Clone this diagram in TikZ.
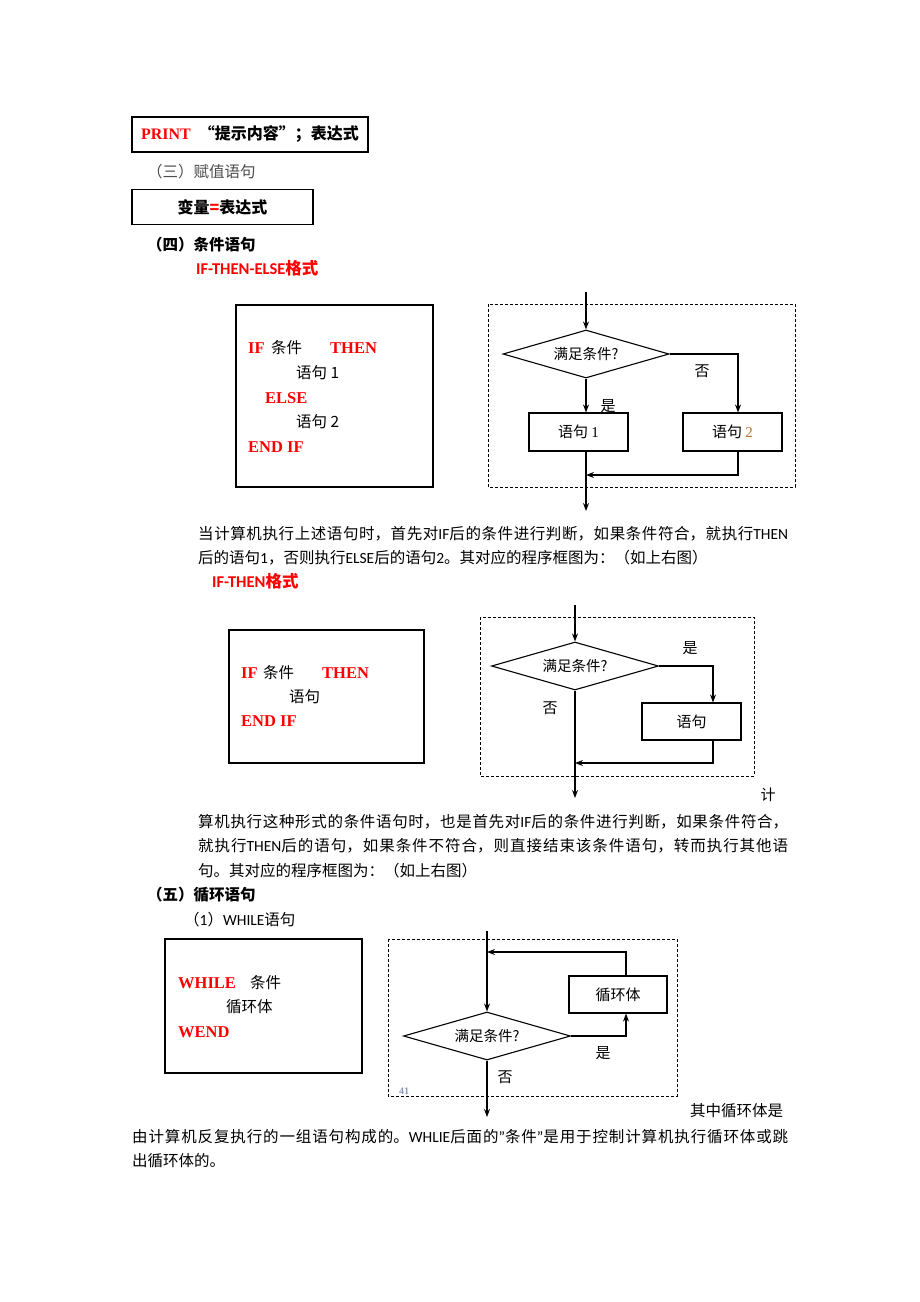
\documentclass[tikz,border=0pt]{standalone}
\usepackage{fontspec}
\setmainfont{Carlito}
\newfontfamily\cjk{Noto Sans CJK SC}
\newfontfamily\tnr{Liberation Serif}
\XeTeXlinebreaklocale "zh"
\XeTeXlinebreakskip=0pt plus 2pt
\usetikzlibrary{arrows.meta,shapes.geometric}
\newcommand\la[1]{{\rmfamily #1}}
\definecolor{numorange}{RGB}{190,110,40}
\definecolor{faint}{RGB}{140,150,185}
\tikzset{
  txt/.style={anchor=west, inner sep=0pt, font=\cjk\fontsize{15.5pt}{18pt}\selectfont},
  jl/.style={txt, text width=#1, align=justify},
  hd/.style={txt, font=\cjk\bfseries\fontsize{15.5pt}{18pt}\selectfont},
  redhd/.style={txt, text=red, font=\bfseries\fontsize{16.5pt}{18pt}\selectfont},
  kw/.style={anchor=west, inner sep=0pt, text=red, font=\tnr\bfseries\fontsize{16.5pt}{18pt}\selectfont},
  ct/.style={anchor=west, inner sep=0pt, font=\cjk\fontsize{15.5pt}{18pt}\selectfont},
  codebox/.style={draw, line width=1.5pt, rectangle, inner sep=0pt},
  fbox/.style={draw, line width=1.1pt, rectangle, inner sep=0pt, font=\cjk\fontsize{15pt}{18pt}\selectfont},
  dia/.style={draw, line width=1.1pt, diamond, aspect=3.5, inner sep=0pt, font=\cjk\fontsize{14.5pt}{18pt}\selectfont},
  dbox/.style={draw, line width=0.9pt, dash pattern=on 3pt off 2pt},
  arr/.style={line width=1.1pt, -{Stealth[length=8pt,width=6pt]}},
  ln/.style={line width=1.1pt},
  lbl/.style={inner sep=0pt, font=\cjk\fontsize{15pt}{18pt}\selectfont},
}
\begin{document}
\begin{tikzpicture}[x=1pt,y=-1pt]
\useasboundingbox (0,0) rectangle (920,1302);
\fill[white] (0,0) rectangle (920,1302);

% PRINT box
\node[codebox, minimum width=236pt, minimum height=35pt] (pb) at (250,134.5)
  {\textcolor{red}{\tnr\bfseries\fontsize{16pt}{18pt}\selectfont PRINT}\hspace{8pt}{\cjk\bfseries\fontsize{16pt}{18pt}\selectfont “提示内容”；表达式}};
\node[txt, text=black!70] (h3) at (147,172) {（三）赋值语句};
\node[codebox, minimum width=181pt, minimum height=35pt] (ab) at (222.5,207)
  {{\cjk\bfseries\fontsize{16pt}{18pt}\selectfont 变量\textcolor{red}{=}表达式}};
\node[hd] (h4) at (147,245) {（四）条件语句};
\node[redhd] (t1) at (196,268) {IF-THEN-ELSE{\cjk 格式}};

% code box 1
\node[codebox, minimum width=197pt, minimum height=182pt] (cb1) at (334.5,396) {};
\node[kw] (c1a) at (248,348) {IF};
\node[ct] (c1b) at (271,348) {条件};
\node[kw] (c1c) at (330,348) {THEN};
\node[ct] (c1d) at (296,373) {语句 1};
\node[kw] (c1e) at (265,398) {ELSE};
\node[ct] (c1f) at (296,422) {语句 2};
\node[kw] (c1g) at (248,447) {END IF};

% flowchart 1
\draw[dbox] (488,304) rectangle (795,487);
\coordinate (f1s) at (586,292);
\node[dia, minimum width=166pt, minimum height=48pt] (f1d) at (586,354) {满足条件?};
\node[fbox, minimum width=99pt, minimum height=38pt] (f1b1) at (578.5,432) {语句 {\tnr 1}};
\node[fbox, minimum width=99pt, minimum height=38pt] (f1b2) at (732.5,432) {语句 {\tnr\textcolor{numorange}{2}}};
\coordinate (f1r) at (738,354);
\coordinate (f1j) at (586,475);
\coordinate (f1e) at (586,511);
\draw[arr] (f1s) -- (f1d.north);
\draw[arr] (f1d.south) -- (f1d.south |- f1b1.north);
\draw[arr] (f1d.east) -- (f1r) -- (f1r |- f1b2.north);
\draw[arr] (f1b2.south -| f1r) |- (f1j);
\draw[arr] (f1d.south |- f1b1.south) -- (f1e);
\node[lbl] (f1y) at (608,406) {是};
\node[lbl] (f1n) at (702,371) {否};

% paragraph 1
\node[jl=590pt] (p1a) at (198,534) {\parfillskip=0pt 当计算机执行上述语句时，首先对\la{IF}后的条件进行判断，如果条件符合，就执行\la{THEN}\par};
\node[txt] (p1b) at (198,558) {后的语句\la{1}，否则执行\la{ELSE}后的语句\la{2}。其对应的程序框图为：（如上右图）};
\node[redhd] (t2) at (212,581) {IF-THEN{\cjk 格式}};

% code box 2
\node[codebox, minimum width=195pt, minimum height=133pt] (cb2) at (326.5,696.5) {};
\node[kw] (c2a) at (241,673) {IF};
\node[ct] (c2b) at (263,673) {条件};
\node[kw] (c2c) at (322,673) {THEN};
\node[ct] (c2d) at (289,697) {语句};
\node[kw] (c2e) at (241,721) {END IF};

% flowchart 2
\draw[dbox] (480,617) rectangle (754,776);
\coordinate (f2s) at (575,605);
\node[dia, minimum width=167pt, minimum height=48pt] (f2d) at (575,666) {满足条件?};
\node[fbox, minimum width=99pt, minimum height=37pt] (f2b) at (691.5,721.5) {语句};
\coordinate (f2r) at (713,666);
\coordinate (f2j) at (575,763);
\coordinate (f2e) at (575,798);
\draw[arr] (f2s) -- (f2d.north);
\draw[arr] (f2d.east) -- (f2r) -- (f2r |- f2b.north);
\draw[arr] (f2b.south -| f2r) |- (f2j);
\draw[arr] (f2d.south) -- (f2e);
\node[lbl] (f2y) at (690,648) {是};
\node[lbl] (f2n) at (550,708) {否};
\node[lbl] (f2k) at (768,795) {计};

% paragraph 2
\node[jl=590pt] (p2a) at (198,822) {\parfillskip=0pt 算机执行这种形式的条件语句时，也是首先对\la{IF}后的条件进行判断，如果条件符合，\par};
\node[jl=590pt] (p2b) at (198,846) {\parfillskip=0pt 就执行\la{THEN}后的语句，如果条件不符合，则直接结束该条件语句，转而执行其他语\par};
\node[txt] (p2c) at (198,871) {句。其对应的程序框图为：（如上右图）};
\node[hd] (h5) at (147,895) {（五）循环语句};
\node[txt] (h51) at (184,920) {（\la{1}）\la{WHILE}语句};

% code box 3
\node[codebox, minimum width=197pt, minimum height=134pt] (cb3) at (263.5,1006) {};
\node[kw] (c3a) at (178,983) {WHILE};
\node[ct] (c3b) at (250,983) {条件};
\node[ct] (c3c) at (226,1007) {循环体};
\node[kw] (c3d) at (178,1032) {WEND};

% flowchart 3
\draw[dbox] (388,939) rectangle (677,1096);
\coordinate (f3s) at (487,931);
\coordinate (f3t) at (487,952);
\node[dia, minimum width=167pt, minimum height=48pt] (f3d) at (487,1036) {满足条件?};
\node[fbox, minimum width=98pt, minimum height=37pt] (f3b) at (618,994.5) {循环体};
\coordinate (f3r) at (626,1036);
\coordinate (f3e) at (487,1117);
\draw[ln] (f3s) -- (f3t);
\draw[arr] (f3t) -- (f3d.north);
\draw[arr] (f3d.east) -- (f3r) -- (f3r |- f3b.south);
\draw[arr] (f3b.north -| f3r) |- (f3t);
\draw[arr] (f3d.south) -- (f3e);
\node[lbl] (f3y) at (603,1053) {是};
\node[lbl] (f3n) at (505,1077) {否};
\node[inner sep=0pt, text=faint, font=\tnr\bfseries\fontsize{10pt}{12pt}\selectfont] (f3p) at (404,1091) {41};

% paragraph 3
\node[txt] (p3a) at (690,1111) {其中循环体是};
\node[jl=656pt] (p3b) at (132,1137) {\parfillskip=0pt 由计算机反复执行的一组语句构成的。\la{WHLIE}后面的\la{"}条件\la{"}是用于控制计算机执行循环体或跳\par};
\node[txt] (p3c) at (132,1161) {出循环体的。};
\end{tikzpicture}
\end{document}
